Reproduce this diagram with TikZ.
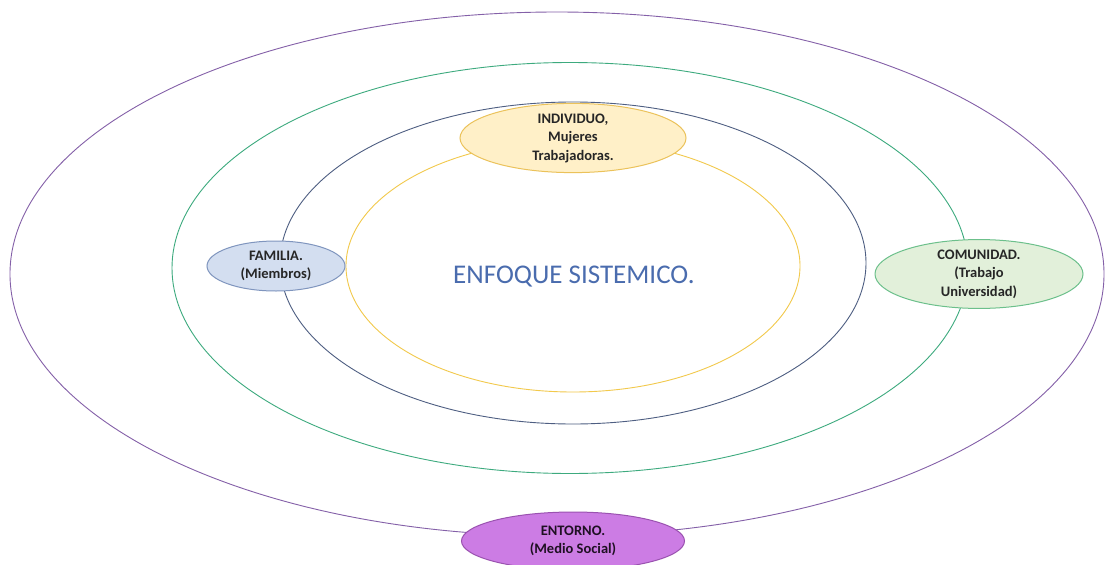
\documentclass[tikz,border=0pt]{standalone}
\usepackage{fontspec}
\setmainfont{Carlito}
\usetikzlibrary{shapes.geometric}
\definecolor{ringpurple}{HTML}{8460A8}
\definecolor{ringgreen}{HTML}{3DAA7E}
\definecolor{ringblue}{HTML}{4E5E82}
\definecolor{ringyellow}{HTML}{F2C94C}
\definecolor{indfill}{HTML}{FFF0C8}
\definecolor{inddraw}{HTML}{EBC25A}
\definecolor{famfill}{HTML}{D3DEF0}
\definecolor{famdraw}{HTML}{7F95BE}
\definecolor{comfill}{HTML}{E2F0DA}
\definecolor{comdraw}{HTML}{6CC08B}
\definecolor{entfill}{HTML}{CC7CE4}
\definecolor{entdraw}{HTML}{9A52B0}
\definecolor{enfoque}{HTML}{4A6CAE}
\tikzset{
  ring/.style={ellipse, draw, line width=0.9pt, inner sep=0pt},
  label/.style={ellipse, draw, line width=1pt, inner sep=0pt, align=center,
    font=\bfseries\fontsize{14.5}{18.5}\selectfont, text=black!85}
}
\begin{document}
\begin{tikzpicture}[x=1pt,y=-1pt]
\useasboundingbox (0,0) rectangle (1106,565);
\fill[white] (0,0) rectangle (1106,565);
\node[ring, draw=ringpurple, minimum width=1094pt, minimum height=524pt] (entornoring) at (557,274) {};
\node[ring, draw=ringgreen, minimum width=796pt, minimum height=411pt] (comunidadring) at (570,268) {};
\node[ring, draw=ringblue, minimum width=586pt, minimum height=322pt] (familiaring) at (573,263) {};
\node[ring, draw=ringyellow, minimum width=454pt, minimum height=252pt] (individuoring) at (573,266) {};
\node[font=\fontsize{27}{30}\selectfont, text=enfoque] (enfoque) at (574,277) {ENFOQUE SISTEMICO.};
\node[label, fill=indfill, draw=inddraw, minimum width=226pt, minimum height=56pt] (individuo) at (573,138) {INDIVIDUO,\\Mujeres\\Trabajadoras.};
\node[label, fill=famfill, draw=famdraw, minimum width=138pt, minimum height=50pt] (familia) at (276,266) {FAMILIA.\\(Miembros)};
\node[label, fill=comfill, draw=comdraw, minimum width=208pt, minimum height=60pt] (comunidad) at (979,274) {COMUNIDAD.\\(Trabajo\\Universidad)};
\node[label, fill=entfill, draw=entdraw, text=black!80!entdraw, minimum width=223pt, minimum height=58pt] (entorno) at (573,541) {ENTORNO.\\(Medio Social)};
\end{tikzpicture}
\end{document}
